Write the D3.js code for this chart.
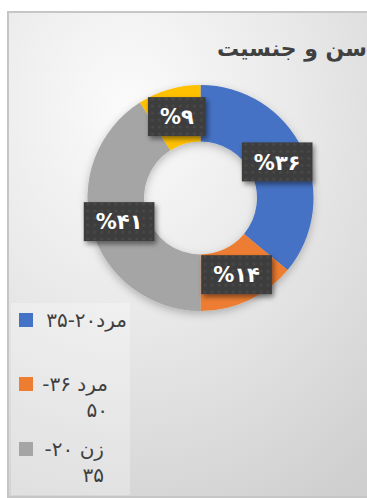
<!DOCTYPE html>
<html>
<head>
<meta charset="utf-8">
<script src="https://cdn.jsdelivr.net/npm/d3@7"></script>
<style>
  html, body { margin: 0; padding: 0; background: #ffffff; }
  svg { display: block; font-family: "DejaVu Sans", "Noto Sans", sans-serif; }
</style>
</head>
<body>
<svg id="chart" width="367" height="498"></svg>
<script>
// Share of respondents by age and gender
const categories = ["مرد۲۰-۳۵", "مرد ۳۶-۵۰", "زن ۲۰-۳۵", "زن ۳۶-۵۰"];
const values = [36, 14, 41, 9];
const valueLabels = ["%۳۶", "%۱۴", "%۴۱", "%۹"];
const colors = ["#4472C4", "#ED7D31", "#A5A5A5", "#FFC000"];
// legend entries as they wrap inside the narrow legend box
const legendLines = [["مرد۲۰-۳۵"], ["مرد ۳۶-", "۵۰"], ["زن ۲۰-", "۳۵"]];
const titleText = "سن و جنسیت";

const svg = d3.select("#chart");
const defs = svg.append("defs");

// chart area background
const bg = defs.append("radialGradient").attr("id", "bgGrad")
  .attr("cx", "0.3").attr("cy", "0.2").attr("r", "0.95");
bg.append("stop").attr("offset", "0").attr("stop-color", "#fbfbfb");
bg.append("stop").attr("offset", "0.45").attr("stop-color", "#e9e9e9");
bg.append("stop").attr("offset", "1").attr("stop-color", "#cfcfcf");

const shadow = defs.append("filter").attr("id", "softShadow")
  .attr("x", "-20%").attr("y", "-20%").attr("width", "140%").attr("height", "140%");
shadow.append("feDropShadow").attr("dx", 0).attr("dy", 3).attr("stdDeviation", 4)
  .attr("flood-color", "#000").attr("flood-opacity", 0.25);

const boxShadow = defs.append("filter").attr("id", "boxShadow")
  .attr("x", "-30%").attr("y", "-30%").attr("width", "160%").attr("height", "170%");
boxShadow.append("feDropShadow").attr("dx", 2).attr("dy", 3).attr("stdDeviation", 2.5)
  .attr("flood-color", "#000").attr("flood-opacity", 0.45);

// dotted texture for the data label boxes
const pat = defs.append("pattern").attr("id", "dots")
  .attr("width", 7).attr("height", 7).attr("patternUnits", "userSpaceOnUse");
pat.append("rect").attr("width", 7).attr("height", 7).attr("fill", "#3e3e3e");
pat.append("circle").attr("cx", 3.5).attr("cy", 3.5).attr("r", 1.3).attr("fill", "#4a4a4a");

// frame
svg.append("rect")
  .attr("x", 8).attr("y", 12).attr("width", 400).attr("height", 485)
  .attr("fill", "url(#bgGrad)")
  .attr("stroke", "#c6c6c6").attr("stroke-width", 2);

// title
svg.append("text")
  .attr("x", 367).attr("y", 56)
  .attr("direction", "rtl")
  .attr("text-anchor", "start")
  .attr("font-size", 22).attr("font-weight", "bold")
  .attr("fill", "#404040")
  .text(titleText);

// donut
const cx = 200.5, cy = 198;
const outerR = 113, innerR = 56.5;
const pie = d3.pie().sort(null).value(d => d);
const arcs = pie(values);
const arc = d3.arc().innerRadius(innerR).outerRadius(outerR);

const g = svg.append("g").attr("transform", `translate(${cx},${cy})`);
g.append("g").attr("filter", "url(#softShadow)")
  .selectAll("path").data(arcs).join("path")
  .attr("d", arc)
  .attr("fill", (d, i) => colors[i]);

// data labels at slice centroids
const labels = g.selectAll("g.lbl").data(arcs).join("g")
  .attr("class", "lbl")
  .attr("transform", d => `translate(${arc.centroid(d)})`);

labels.each(function (d, i) {
  const grp = d3.select(this);
  const t = grp.append("text")
    .attr("text-anchor", "middle")
    .attr("dy", "0.37em")
    .attr("font-size", 21).attr("font-weight", "bold")
    .attr("fill", "#ffffff")
    .text(valueLabels[i]);
  const w = t.node().getComputedTextLength() + 24;
  const h = 39;
  grp.insert("rect", "text")
    .attr("x", -w / 2).attr("y", -h / 2)
    .attr("width", w).attr("height", h)
    .attr("fill", "url(#dots)")
    .attr("filter", "url(#boxShadow)");
});

// legend
svg.append("rect")
  .attr("x", 11).attr("y", 303).attr("width", 119).attr("height", 192)
  .attr("fill", "#ffffff").attr("fill-opacity", 0.28);

const legendItemY = [320, 384, 449];
const legendRight = [127, 108, 104];
legendLines.forEach((lines, i) => {
  svg.append("rect")
    .attr("x", 19).attr("y", legendItemY[i] - 7)
    .attr("width", 14).attr("height", 14)
    .attr("fill", colors[i]);
  lines.forEach((line, j) => {
    svg.append("text")
      .attr("x", legendRight[i]).attr("y", legendItemY[i] + j * 26)
      .attr("dy", "0.35em")
      .attr("direction", "rtl")
      .attr("text-anchor", "start")
      .attr("font-size", 20)
      .attr("fill", "#3f3f3f")
      .text(line);
  });
});
</script>
</body>
</html>
